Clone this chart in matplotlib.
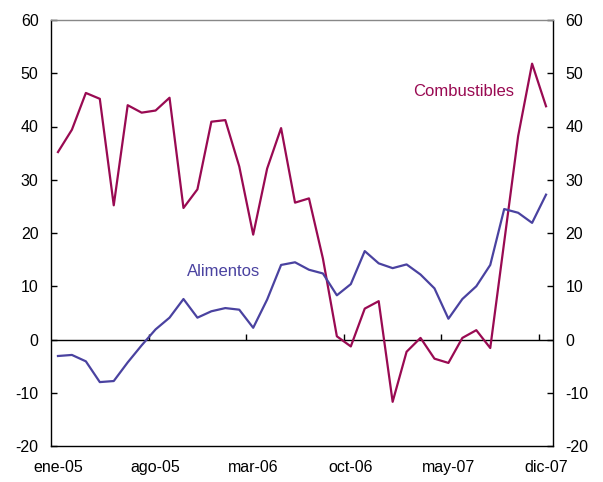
import numpy as np
import matplotlib
matplotlib.use("Agg")
import matplotlib.pyplot as plt

plt.rcParams['font.family'] = ['Liberation Sans', 'DejaVu Sans']
plt.rcParams['axes.unicode_minus'] = False

months = ["ene", "feb", "mar", "abr", "may", "jun", "jul", "ago", "sep", "oct", "nov", "dic"]
periods = [f"{m}-{y:02d}" for y in (5, 6, 7) for m in months]

combustibles = [35.2, 39.4, 46.3, 45.2, 25.2, 44.0, 42.6, 43.0, 45.4, 24.7, 28.2, 40.9,
                41.2, 32.5, 19.7, 32.1, 39.7, 25.7, 26.5, 15.2, 0.6, -1.3, 5.8, 7.2,
                -11.7, -2.3, 0.3, -3.6, -4.4, 0.3, 1.75, -1.6, 18.3, 38.2, 51.8, 43.8]
alimentos = [-3.1, -2.9, -4.1, -8.0, -7.8, -4.3, -1.1, 1.9, 4.1, 7.6, 4.1, 5.3,
             5.9, 5.6, 2.2, 7.5, 14.0, 14.5, 13.1, 12.4, 8.3, 10.4, 16.6, 14.3,
             13.4, 14.1, 12.2, 9.6, 3.9, 7.6, 10.0, 14.0, 24.5, 23.8, 21.9, 27.2]

label_step = 7
y_ticks = [-20, -10, 0, 10, 20, 30, 40, 50, 60]

col_comb = "#990A52"
col_alim = "#4A42A0"

fig = plt.figure(figsize=(6.03, 4.82), dpi=100)
ax = fig.add_axes([51 / 603, 36 / 482, 502 / 603, 426 / 482])

n = len(periods)
x = np.arange(n)
ax.plot(x, combustibles, color=col_comb, lw=1.6, zorder=3)
ax.plot(x, alimentos, color=col_alim, lw=1.6, zorder=3)

ax.set_xlim(-0.5, n - 0.5)
ax.set_ylim(y_ticks[0], y_ticks[-1])

# zero reference line with small upward category ticks
ax.axhline(0, color="black", lw=1.0, zorder=2)
bounds = np.arange(label_step - 0.5, n, label_step)
ax.vlines(bounds, 0, 0.95, color="black", lw=1.0, zorder=2)

# category labels
lab_pos = np.arange(0, n, label_step)
ax.set_xticks(lab_pos)
ax.set_xticklabels([periods[i] for i in lab_pos])
ax.tick_params(axis="x", length=0, pad=10, labelsize=11.5)

# y axis on both sides
ax.set_yticks(y_ticks)
ax.tick_params(axis="y", direction="in", length=4, width=1, labelsize=11.5,
               left=True, right=True, labelleft=True, labelright=True, pad=9)

for side in ("left", "right", "bottom"):
    ax.spines[side].set_color("black")
    ax.spines[side].set_linewidth(1.0)
ax.spines["top"].set_color("#888888")
ax.spines["top"].set_linewidth(1.0)

ax.text(29.06, 46.6, "Combustibles", color=col_comb, fontsize=12,
        ha="center", va="center")
ax.text(11.9, 12.8, "Alimentos", color=col_alim, fontsize=12,
        ha="center", va="center")

fig.savefig("out.png", dpi=100)
